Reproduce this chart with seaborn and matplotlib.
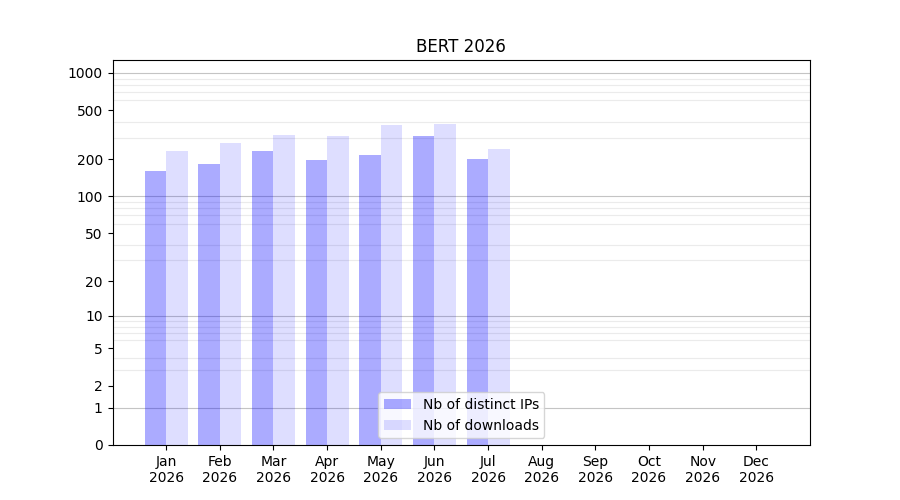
import numpy as np
import pandas as pd
import matplotlib
matplotlib.use('Agg')
import matplotlib.pyplot as plt
import seaborn as sns

months = ['Jan', 'Feb', 'Mar', 'Apr', 'May', 'Jun', 'Jul', 'Aug', 'Sep', 'Oct', 'Nov', 'Dec']
year = '2026'
distinct_ips = [161, 184, 234, 198, 217, 309, 201]
downloads = [234, 271, 315, 309, 380, 387, 243]
series_names = ['Nb of distinct IPs', 'Nb of downloads']
ytick_values = [0, 1, 2, 5, 10, 20, 50, 100, 200, 500, 1000]

n = len(distinct_ips)
df = pd.DataFrame({
    'month': months[:n] * 2,
    'value': distinct_ips + downloads,
    'series': [series_names[0]] * n + [series_names[1]] * n,
})

fig, ax = plt.subplots(figsize=(9, 5), dpi=100)

ax.set_yscale('function', functions=(lambda v: np.log10(1 + np.clip(v, 0, None)),
                                     lambda t: 10 ** t - 1))

sns.barplot(data=df, x='month', y='value', hue='series', order=months,
            hue_order=series_names, palette=['blue', 'blue'], width=0.8,
            saturation=1, legend=False, ax=ax, zorder=2)

for cont, a in zip(ax.containers, [0.33, 0.13]):
    for bar in cont:
        bar.set_alpha(a)

ax.set_xlim(-1, 12)
ax.set_ylim(0, 1270)

ax.set_yticks(ytick_values)
ax.set_yticklabels([str(v) for v in ytick_values])
minor = [m * d for d in (1, 10, 100) for m in range(2, 10)]
ax.set_yticks(minor, minor=True)
ax.tick_params(axis='y', which='minor', length=0)
ax.grid(False)
ax.grid(axis='y', which='minor', color='#ebebeb', linewidth=0.8, zorder=1)
for d in (1, 10, 100, 1000):
    ax.axhline(d, color='#c4c4c4', linewidth=0.8, zorder=1)

ax.set_xticks(range(len(months)))
ax.set_xticklabels([f'{m}\n{year}' for m in months])
ax.set_xlabel('')
ax.set_ylabel('')
ax.set_title('BERT 2026')

ax.legend(ax.containers, series_names, loc='lower center')

fig.savefig('out.png')
